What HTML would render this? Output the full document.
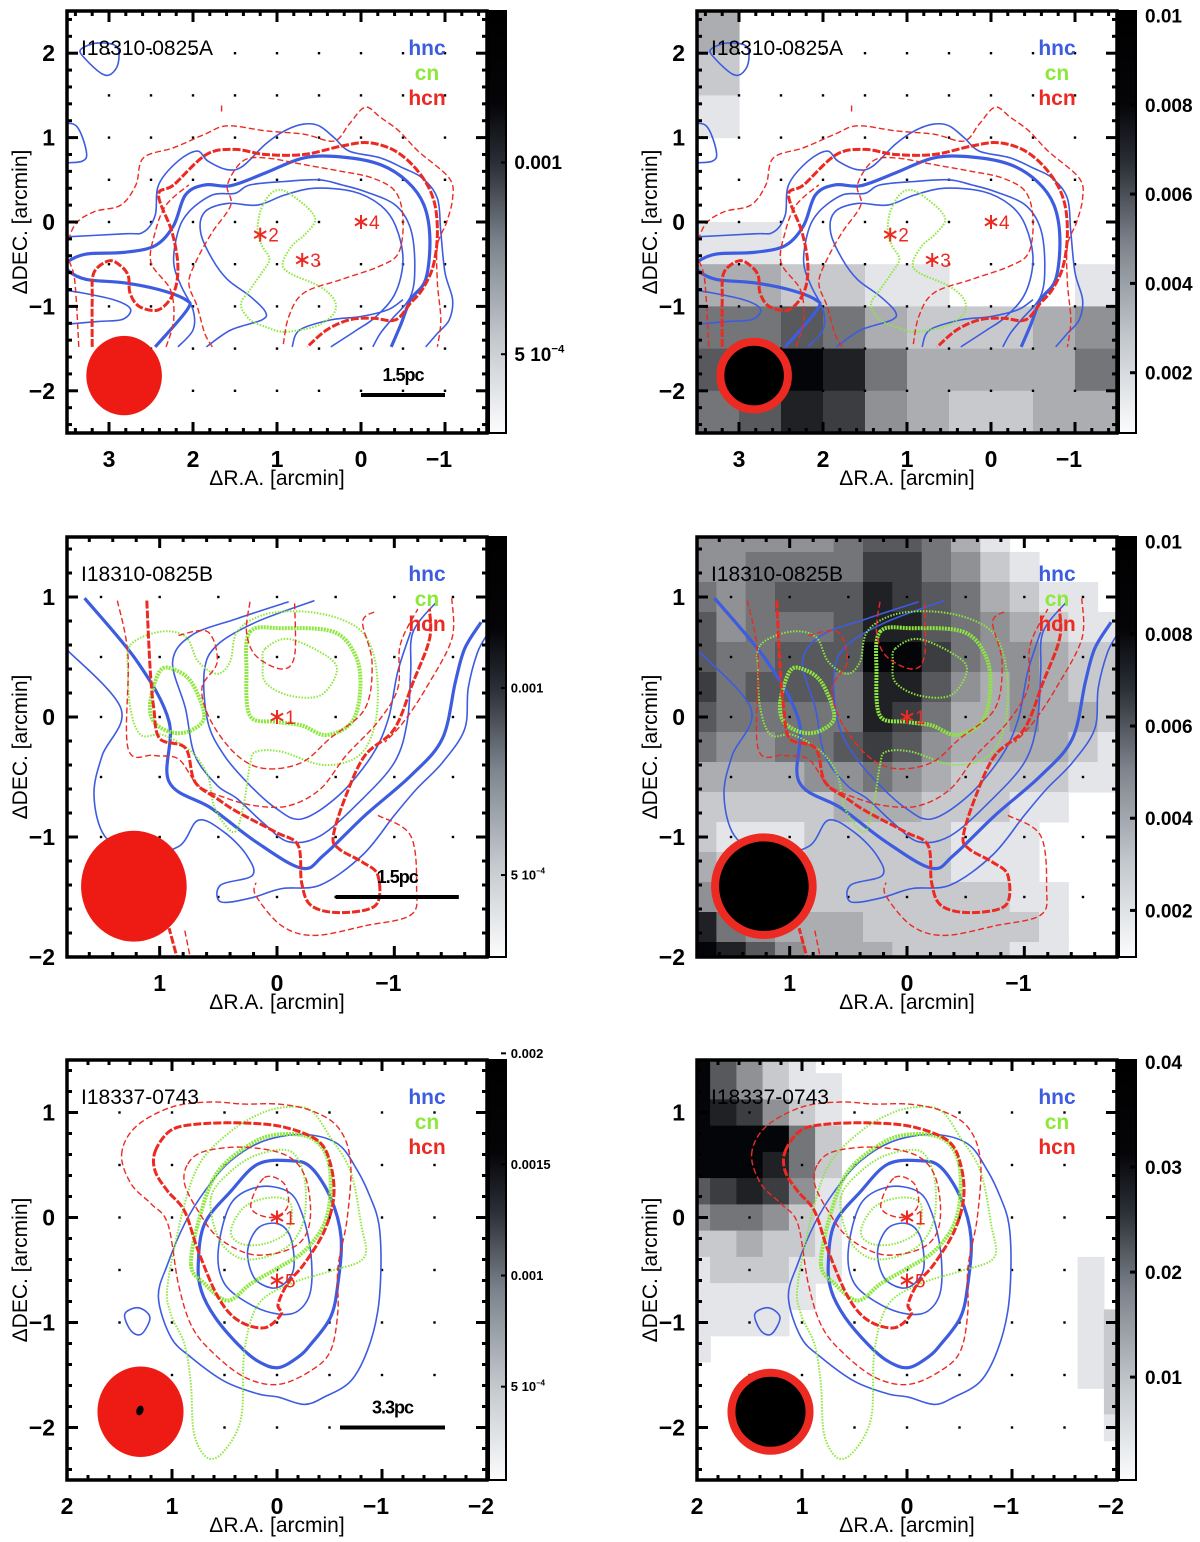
<!DOCTYPE html>
<html><head><meta charset="utf-8"><title>Contour maps</title>
<style>
html,body{margin:0;padding:0;background:#fff;}
svg{display:block;font-family:"Liberation Sans",Arial,sans-serif;}
</style></head>
<body>
<svg id="fig" width="1200" height="1542" viewBox="0 0 1200 1542" xmlns="http://www.w3.org/2000/svg">
<defs>
<linearGradient id="cbgrad" x1="0" y1="0" x2="0" y2="1">
<stop offset="0" stop-color="#000"/><stop offset="0.22" stop-color="#050508"/><stop offset="0.36" stop-color="#2a2e36"/><stop offset="0.55" stop-color="#7c838c"/><stop offset="0.78" stop-color="#c4c9ce"/><stop offset="1" stop-color="#fbfcfd"/>
</linearGradient>
</defs>
</svg>
<script>
// ---------------- DATA ----------------
const xTicksRow1 = [3, 2, 1, 0, -1];
const yTicksRow1 = [-2, -1, 0, 1, 2];
const xTicksRow2 = [1, 0, -1];
const yTicksRow2 = [-2, -1, 0, 1];
const xTicksRow3 = [2, 1, 0, -1, -2];
const yTicksRow3 = [-2, -1, 0, 1];
const panelTitles = ['I18310-0825A', 'I18310-0825B', 'I18337-0743'];
const legendNames = ['hnc', 'cn', 'hcn'];
const scaleBarLabels = ['1.5pc', '1.5pc', '3.3pc'];
const scaleBarRanges = [[0.0, -1.0], [-0.5, -1.55], [-0.6, -1.6]];
const scaleBarY = [-2.05, -1.5, -2.0];
const cbLeftLabels = [['0.001', '5 10'], ['0.001', '5 10'], ['0.002', '0.0015', '0.001', '5 10']];
const cbLeftValues = [[0.001, 0.0005], [0.001, 0.0005], [0.002, 0.0015, 0.001, 0.0005]];
const cbLeftRange = [[3.76e-4, 1.73e-3], [3.69e-4, 1.75e-3], [0.00008, 0.00197]];
const cbRightLabels = [['0.01', '0.008', '0.006', '0.004', '0.002'], ['0.01', '0.008', '0.006', '0.004', '0.002'], ['0.04', '0.03', '0.02', '0.01']];
const cbRightValues = [[0.01, 0.008, 0.006, 0.004, 0.002], [0.01, 0.008, 0.006, 0.004, 0.002], [0.04, 0.03, 0.02, 0.01]];
const cbRightRange = [[0.00065, 0.0101], [0.00099, 0.0101], [0.0002, 0.0402]];
const starsRow1 = [[1.2, -0.15, '2'], [0.7, -0.45, '3'], [0.0, 0.0, '4']];
const starsRow2 = [[0.0, 0.0, '1']];
const starsRow3 = [[0.0, 0.0, '1'], [0.0, -0.6, '5']];
const beams = [[2.82, -1.82, 0.45], [1.22, -1.41, 0.45], [1.3, -1.85, 0.41]];
const greyMap1 = [
[3,0,0,0,0,0,0,0,0,0],
[2,0,0,0,0,0,0,0,0,0],
[1,0,0,0,0,0,0,0,0,0],
[0,0,0,0,0,0,0,0,0,0],
[0,0,0,0,0,0,0,0,0,0],
[1,1,0,0,0,0,0,0,0,0],
[3,3,2,2,1,1,0,0,0,1],
[5,5,6,5,3,2,2,2,3,4],
[6,7,9,8,5,3,3,3,3,5],
[5,6,8,7,4,3,2,2,3,3]];
const greyMap2 = [
[4,4,4,4,4,5,6,6,5,3,1,0,0,0,0],
[4,4,5,5,5,5,7,7,5,4,2,1,0,0,0],
[5,4,5,6,6,6,8,7,6,5,3,2,1,1,0],
[6,4,5,5,5,6,8,8,6,5,4,3,2,1,1],
[6,5,5,6,6,6,9,9,7,5,4,4,3,2,2],
[7,5,6,6,6,5,8,8,6,4,3,4,3,2,2],
[6,5,5,5,5,5,8,7,5,3,3,4,3,3,2],
[5,4,4,5,5,6,7,6,4,3,3,3,3,2,1],
[3,3,3,3,4,4,5,4,3,2,2,2,2,1,1],
[2,2,2,2,2,3,3,3,2,2,2,1,1,0,0],
[2,1,1,1,2,2,2,2,2,1,1,1,0,0,0],
[3,2,2,2,2,2,2,2,2,1,1,1,0,0,0],
[4,3,3,2,2,2,2,2,2,2,2,1,1,0,0],
[8,5,4,3,3,3,2,2,2,2,2,2,1,0,0],
[9,8,6,4,3,3,3,2,2,2,2,1,1,0,0]];
const greyMap3 = [
[9,6,4,2,1,0,0,0,0,0,0,0,0,0,0,0,0],
[9,6,4,2,1,1,0,0,0,0,0,0,0,0,0,0,0],
[9,8,7,4,2,1,0,0,0,0,0,0,0,0,0,0,0],
[9,9,9,9,5,2,0,0,0,0,0,0,0,0,0,0,0],
[9,9,9,8,5,2,0,0,0,0,0,0,0,0,0,0,0],
[6,7,8,7,4,1,0,0,0,0,0,0,0,0,0,0,0],
[4,5,5,4,2,1,0,0,0,0,0,0,0,0,0,0,0],
[2,2,3,2,2,1,0,0,0,0,0,0,0,0,0,0,0],
[1,2,2,2,1,1,0,0,0,0,0,0,0,0,0,1,0],
[1,1,1,1,1,0,0,0,0,0,0,0,0,0,0,1,0],
[1,1,1,1,0,0,0,0,0,0,0,0,0,0,0,1,2],
[1,0,0,0,0,0,0,0,0,0,0,0,0,0,0,1,2],
[0,0,0,0,0,0,0,0,0,0,0,0,0,0,0,1,2],
[0,0,0,0,0,0,0,0,0,0,0,0,0,0,0,0,2],
[0,0,0,0,0,0,0,0,0,0,0,0,0,0,0,0,1],
[0,0,0,0,0,0,0,0,0,0,0,0,0,0,0,0,0],
[0,0,0,0,0,0,0,0,0,0,0,0,0,0,0,0,0]];
const contoursRow1 = [
['hnc',0,1,[[3.34,2.04],[3.14,2.12],[2.91,2.08],[2.89,1.88],[2.98,1.75],[3.09,1.76],[3.27,1.92]]],
['hnc',0,0,[[3.6,1.16],[3.39,1.14],[3.27,0.84],[3.32,0.72],[3.6,0.70]]],
['hnc',0,0,[[3.6,-0.18],[2.82,-0.14],[2.59,-0.12],[2.45,0.08],[2.41,0.44],[2.18,0.72],[1.95,0.84],[1.82,0.72],[1.59,0.62],[1.41,0.66],[1.14,0.92],[0.91,1.08],[0.68,1.16],[0.5,1.14],[0.32,1.0],[0.14,0.84],[-0.23,0.76],[-0.5,0.64],[-0.73,0.52],[-0.91,0.28],[-0.95,-0.12],[-1.0,-0.6],[-1.09,-0.92],[-1.05,-1.16],[-0.91,-1.32],[-0.77,-1.48]]],
['hnc',1,0,[[2.45,-1.48],[2.07,-1.04],[2.09,-0.92],[2.41,-0.8],[2.82,-0.72],[3.27,-0.68],[3.48,-0.58],[3.5,-0.48],[3.27,-0.38],[2.82,-0.36],[2.45,-0.28],[2.23,-0.04],[2.09,0.32],[1.86,0.44],[1.55,0.43],[1.14,0.58],[0.68,0.76],[0.23,0.77],[-0.23,0.68],[-0.55,0.48],[-0.75,0.2],[-0.82,-0.2],[-0.77,-0.68],[-0.59,-0.92],[-0.48,-1.2],[-0.36,-1.48]]],
['hnc',0,0,[[3.6,-0.8],[3.32,-0.84],[2.95,-0.92],[2.77,-1.0],[2.75,-1.08],[2.86,-1.16],[3.14,-1.18],[3.6,-1.22]]],
['hnc',0,0,[[2.18,-1.48],[2.0,-1.28],[2.0,-1.04],[2.14,-0.76],[2.23,-0.48],[2.18,-0.12],[2.05,0.12],[1.77,0.32],[1.5,0.34],[1.32,0.44],[0.91,0.48],[0.5,0.5],[0.23,0.44],[-0.05,0.36],[-0.41,0.2],[-0.59,-0.08],[-0.64,-0.52],[-0.59,-0.88],[-0.36,-1.16],[-0.23,-1.32],[-0.14,-1.48]]],
['hnc',0,0,[[1.84,-1.48],[1.55,-1.28],[1.18,-1.16],[1.14,-1.06],[1.32,-0.88],[1.59,-0.68],[1.77,-0.44],[1.91,-0.12],[1.86,0.12],[1.59,0.22],[1.23,0.2],[0.91,0.32],[0.55,0.4],[0.09,0.36],[-0.23,0.2],[-0.41,-0.04],[-0.5,-0.44],[-0.41,-0.84],[-0.18,-1.12],[0.05,-1.28],[0.36,-1.48]]],
['hnc',0,0,[[0.82,-1.48],[0.73,-1.28],[0.36,-1.16],[0.0,-1.12],[-0.32,-1.04],[-0.5,-0.92]]],
['cn',0,1,[[0.95,0.38],[0.77,0.28],[0.59,0.12],[0.55,0],[0.68,-0.16],[0.82,-0.28],[0.93,-0.48],[0.86,-0.6],[0.5,-0.76],[0.32,-0.92],[0.32,-1.08],[0.5,-1.22],[0.73,-1.28],[0.95,-1.3],[1.14,-1.24],[1.32,-1.16],[1.43,-0.98],[1.32,-0.8],[1.18,-0.6],[1.09,-0.44],[1.18,-0.28],[1.23,-0.12],[1.2,0.12],[1.09,0.32]]],
['hcn',1,0,[[3.2,-1.48],[3.2,-0.92],[3.18,-0.6],[3.0,-0.46],[2.86,-0.52],[2.77,-0.64],[2.75,-0.84],[2.64,-1.0],[2.41,-1.04],[2.23,-0.84],[2.18,-0.52],[2.25,-0.12],[2.41,0.32],[2.23,0.44],[1.84,0.8],[1.5,0.86],[1.14,0.8],[0.68,0.8],[0.23,0.9],[-0.09,0.94],[-0.41,0.84],[-0.68,0.6],[-0.86,0.28],[-0.91,-0.12],[-0.86,-0.52],[-0.73,-0.8],[-0.59,-0.96],[-0.41,-1.16],[-0.14,-1.14],[0.14,-1.16],[0.41,-1.28],[0.64,-1.48]]],
['hcn',0,0,[[3.36,-1.48],[3.41,-0.68],[3.5,-0.36],[3.41,-0.04],[3.18,0.12],[2.86,0.2],[2.68,0.44],[2.59,0.76],[2.23,0.88],[1.86,1.04],[1.59,1.14],[1.14,1.08],[0.68,1.04],[0.32,0.96],[0.14,1.16],[-0.05,1.36],[-0.23,1.24],[-0.45,1.08],[-0.68,0.84],[-1.05,0.52],[-1.09,0.28],[-1.02,0],[-0.91,-0.28],[-0.91,-0.72],[-0.95,-1.16],[-0.91,-1.48]]],
['hcn',0,0,[[1.77,-1.48],[1.86,-1.32],[1.95,-1.0],[2.05,-0.72],[1.95,-0.44],[1.77,-0.12],[1.55,0.2],[1.59,0.44],[1.41,0.72],[1.14,0.76],[0.68,0.68],[0.23,0.6],[-0.14,0.52],[-0.41,0.36],[-0.5,0.04],[-0.45,-0.36],[-0.23,-0.52],[0.23,-0.68],[0.68,-0.84],[0.86,-1.12],[0.93,-1.48]]],
['hcn',0,0,[[2.32,-1.48],[2.23,-1.16],[2.27,-0.8],[2.5,-0.48],[2.45,-0.12],[2.32,0.2],[2.05,0.44]]],
['hcn',0,0,[[1.66,1.38],[1.66,1.28]]]
];
const contoursRow2 = [
['hnc',1,0,[[1.64,0.99],[1.19,0.46],[0.92,-0.04],[0.92,-0.54],[0.56,-0.76],[0.18,-1.04],[-0.21,-1.26],[-0.4,-1.15],[-0.75,-0.82],[-1.14,-0.49],[-1.41,-0.18],[-1.52,0.29],[-1.6,0.57],[-1.74,0.79]]],
['hnc',0,0,[[1.8,0.57],[1.33,0.07],[1.49,-0.32],[1.56,-0.65],[1.47,-0.99],[1.2,-1.15],[0.84,-1.08],[0.67,-0.86],[0.45,-0.96],[0.26,-1.15],[0.21,-1.32],[0.48,-1.4],[0.48,-1.54],[0.23,-1.51],[-0.04,-1.43],[-0.37,-1.4],[-0.73,-1.15],[-1.0,-0.82],[-1.19,-0.6],[-1.41,-0.38],[-1.6,-0.1],[-1.63,0.24],[-1.71,0.54],[-1.8,0.7]]],
['hnc',0,0,[[-0.1,0.96],[0.34,0.82],[0.73,0.68],[0.89,0.46],[0.78,0.07],[0.7,-0.32],[0.51,-0.57],[0.34,-0.68],[0.12,-0.88],[-0.1,-1.04],[-0.37,-0.99],[-0.7,-0.71],[-1.0,-0.38],[-1.11,-0.04],[-1.14,0.38],[-1.16,0.71],[-1.37,0.97]]],
['hnc',0,0,[[-0.32,0.97],[0.18,0.79],[0.51,0.6],[0.62,0.38],[0.59,-0.04],[0.45,-0.32],[0.23,-0.57],[0.01,-0.76],[-0.21,-0.85],[-0.53,-0.65],[-0.81,-0.32],[-0.95,-0.01],[-1.03,0.38],[-1.14,0.71]]],
['cn',1,1,[[1.08,0.13],[1.0,0.38],[0.89,0.4],[0.73,0.29],[0.62,0.01],[0.73,-0.11],[0.89,-0.13],[1.05,-0.04]]],
['cn',1,1,[[0.23,0.71],[-0.04,0.74],[-0.48,0.71],[-0.67,0.51],[-0.71,0.24],[-0.64,-0.04],[-0.42,-0.15],[-0.21,-0.07],[0.01,-0.04],[0.23,0.01],[0.26,0.38]]],
['cn',0,1,[[0.1,0.57],[-0.1,0.65],[-0.42,0.51],[-0.51,0.38],[-0.37,0.18],[-0.1,0.18],[0.1,0.29],[0.12,0.46]]],
['cn',0,1,[[1.25,0.6],[1.0,0.71],[0.78,0.67],[0.67,0.46],[0.51,0.36],[0.4,0.46],[0.34,0.71],[0.12,0.85],[-0.21,0.88],[-0.53,0.82],[-0.75,0.68],[-0.85,0.38],[-0.84,-0.04],[-0.7,-0.32],[-0.4,-0.4],[-0.04,-0.29],[0.18,-0.29],[0.23,-0.4],[0.29,-0.76],[0.37,-0.96],[0.53,-0.76],[0.59,-0.49],[0.73,-0.29],[0.97,-0.15],[1.16,-0.15],[1.25,0.07],[1.27,0.38]]],
['hcn',1,0,[[1.11,0.97],[1.08,0.38],[1.05,0.07],[1.0,-0.18],[0.78,-0.26],[0.7,-0.54],[0.51,-0.68],[0.34,-0.79],[0.01,-0.96],[-0.18,-1.07],[-0.21,-1.38],[-0.29,-1.57],[-0.53,-1.63],[-0.84,-1.57],[-0.86,-1.32],[-0.73,-1.21],[-0.53,-1.1],[-0.48,-0.99],[-0.59,-0.65],[-0.75,-0.32],[-1.0,-0.1],[-1.16,0.29],[-1.3,0.65],[-1.3,0.9]]],
['hcn',0,0,[[1.36,0.97],[1.27,0.51],[1.27,-0.26],[1.05,-0.32],[0.84,-0.35],[0.67,-0.57],[0.42,-0.68],[0.18,-0.74],[-0.1,-0.74],[-0.37,-0.6],[-0.59,-0.32],[-0.86,-0.04],[-1.03,0.24],[-1.05,0.6],[-1.2,0.9]]],
['hcn',0,0,[[0.84,0.68],[0.59,0.71],[0.51,0.46],[0.64,0.24],[0.56,-0.04],[0.34,-0.32],[0.1,-0.43],[-0.21,-0.38],[-0.45,-0.18],[-0.75,0.07],[-0.81,0.46],[-0.73,0.79],[-0.84,0.88]]],
['hcn',0,0,[[0.23,0.96],[0.26,0.71],[0.18,0.51],[-0.04,0.4],[-0.15,0.51],[-0.15,0.96]]],
['hcn',0,0,[[-0.86,-0.82],[-1.14,-0.99],[-1.19,-1.43],[-1.14,-1.65],[-0.75,-1.74],[-0.32,-1.82],[-0.04,-1.74],[0.18,-1.49],[0.18,-1.38]]],
['hcn',0,0,[[-1.49,0.99],[-1.49,0.65],[-1.27,0.24],[-1.08,-0.04],[-0.92,-0.21]]],
['hcn',1,0,[[0.84,-2.05],[0.92,-1.76]]],
['hcn',0,0,[[0.73,-2.05],[0.79,-1.76]]]
];
const contoursRow3 = [
['hnc',0,1,[[1.13,-0.76],[1.04,-0.44],[0.88,-0.06],[0.69,0.25],[0.44,0.54],[0.12,0.73],[-0.26,0.79],[-0.58,0.7],[-0.77,0.44],[-0.89,0.19],[-0.97,-0.06],[-0.99,-0.44],[-0.96,-0.89],[-0.86,-1.27],[-0.7,-1.56],[-0.45,-1.71],[-0.26,-1.78],[-0.01,-1.71],[0.18,-1.68],[0.5,-1.56],[0.82,-1.33],[1.01,-1.14]]],
['hnc',1,1,[[0.75,-0.44],[0.69,-0.06],[0.44,0.25],[0.18,0.51],[-0.13,0.54],[-0.32,0.48],[-0.51,0.19],[-0.61,-0.19],[-0.58,-0.63],[-0.51,-0.95],[-0.32,-1.21],[-0.2,-1.33],[-0.01,-1.43],[0.18,-1.37],[0.37,-1.21],[0.59,-0.95],[0.72,-0.7]]],
['hnc',0,1,[[0.56,-0.32],[0.44,0.13],[0.18,0.29],[-0.1,0.25],[-0.23,0.06],[-0.32,-0.32],[-0.32,-0.7],[-0.2,-0.89],[-0.01,-0.92],[0.25,-0.83],[0.5,-0.63]]],
['hnc',0,1,[[0.28,-0.32],[0.18,-0.1],[-0.01,-0.06],[-0.13,-0.19],[-0.16,-0.48],[-0.07,-0.63],[0.06,-0.67],[0.22,-0.57]]],
['hnc',0,1,[[1.45,-0.92],[1.32,-0.86],[1.21,-0.95],[1.29,-1.11],[1.39,-1.08]]],
['cn',1,1,[[0.82,-0.44],[0.72,0.06],[0.56,0.44],[0.25,0.70],[-0.01,0.79],[-0.32,0.76],[-0.48,0.57],[-0.51,0.25],[-0.45,-0.06],[-0.26,-0.32],[-0.01,-0.48],[0.25,-0.63],[0.47,-0.79],[0.69,-0.63]]],
['cn',0,1,[[1.04,-0.63],[0.88,0.13],[0.72,0.54],[0.44,0.82],[0.18,0.98],[-0.07,1.05],[-0.32,1.02],[-0.51,0.76],[-0.7,0.44],[-0.8,-0.06],[-0.83,-0.38],[-0.51,-0.51],[-0.13,-0.63],[0.18,-0.83],[0.31,-1.27],[0.34,-1.9],[0.5,-2.22],[0.66,-2.29],[0.79,-2.06],[0.82,-1.59],[0.88,-1.21],[1.01,-0.92]]],
['cn',0,1,[[0.63,0.19],[0.44,0.44],[0.18,0.6],[-0.13,0.63],[-0.26,0.38],[-0.26,0],[-0.13,-0.25],[0.12,-0.38],[0.37,-0.38],[0.56,-0.19]]],
['cn',0,1,[[0.44,-0.13],[0.31,0.1],[0.06,0.19],[-0.13,0.13],[-0.1,-0.13],[0.12,-0.25],[0.34,-0.25]]],
['hcn',1,1,[[1.16,0.63],[1.01,0.83],[0.75,0.89],[0.31,0.9],[-0.07,0.86],[-0.39,0.73],[-0.51,0.51],[-0.54,0.19],[-0.45,-0.13],[-0.26,-0.44],[-0.1,-0.63],[-0.01,-0.83],[-0.04,-0.92],[0.12,-1.05],[0.37,-0.98],[0.56,-0.76],[0.75,-0.32],[0.88,0.06],[1.04,0.25],[1.16,0.44]]],
['hcn',0,1,[[1.48,0.6],[1.35,0.86],[1.01,1.05],[0.63,1.1],[0.31,1.08],[-0.01,1.08],[-0.32,1.02],[-0.58,0.86],[-0.7,0.54],[-0.67,0],[-0.58,-0.48],[-0.58,-0.89],[-0.51,-1.27],[-0.32,-1.46],[-0.01,-1.59],[0.31,-1.52],[0.63,-1.27],[0.82,-1.02],[0.94,-0.63],[1.04,-0.06],[1.2,0.13],[1.39,0.32]]],
['hcn',0,1,[[0.85,0.51],[0.69,0.63],[0.31,0.67],[-0.07,0.6],[-0.26,0.41],[-0.32,0.06],[-0.26,-0.19],[-0.07,-0.32],[0.25,-0.35],[0.56,-0.19],[0.75,0.06],[0.88,0.32]]],
['hcn',0,1,[[0.12,0.38],[-0.07,0.32],[-0.1,0.1],[0.06,0],[0.25,0.1]]]
];

// ---------------- DRAWING ----------------
const NS = 'http://www.w3.org/2000/svg';
const svg = document.getElementById('fig');
function mk(tag, attrs, parent) {
  const e = document.createElementNS(NS, tag);
  for (const k in attrs) e.setAttribute(k, attrs[k]);
  (parent || svg).appendChild(e);
  return e;
}
const COLORS = { hnc: '#3d5ce0', cn: '#8de83c', hcn: '#ec2a22' };
const rows = [
  { top: 11, bottom: 433, xr: [3.5, -1.5], yr: [2.5, -2.5], xt: xTicksRow1, yt: yTicksRow1, cont: contoursRow1, stars: starsRow1, grey: greyMap1, gStep: 0.5, gx0: 3.25, gy0: 2.25, cbLfs: 19 },
  { top: 537, bottom: 957, xr: [1.79, -1.79], yr: [1.5, -2.0], xt: xTicksRow2, yt: yTicksRow2, cont: contoursRow2, stars: starsRow2, grey: greyMap2, gStep: 0.25, gx0: 1.75, gy0: 1.5, cbLfs: 13 },
  { top: 1060, bottom: 1480, xr: [2.0, -2.0], yr: [1.5, -2.5], xt: xTicksRow3, yt: yTicksRow3, cont: contoursRow3, stars: starsRow3, grey: greyMap3, gStep: 0.25, gx0: 2.0, gy0: 1.5, cbLfs: 13 }
];
const sides = [{ left: 67, right: false }, { left: 697, right: true }];

function smooth(pts, closed) {
  const n = pts.length;
  if (n < 3) return 'M' + pts.map(p => p[0].toFixed(1) + ',' + p[1].toFixed(1)).join('L');
  let d = 'M' + pts[0][0].toFixed(1) + ',' + pts[0][1].toFixed(1);
  const segs = closed ? n : n - 1;
  const g = i => closed ? pts[(i + n) % n] : pts[Math.max(0, Math.min(n - 1, i))];
  for (let i = 0; i < segs; i++) {
    const p0 = g(i - 1), p1 = g(i), p2 = g(i + 1), p3 = g(i + 2);
    const c1 = [p1[0] + (p2[0] - p0[0]) / 6, p1[1] + (p2[1] - p0[1]) / 6];
    const c2 = [p2[0] - (p3[0] - p1[0]) / 6, p2[1] - (p3[1] - p1[1]) / 6];
    d += 'C' + c1[0].toFixed(1) + ',' + c1[1].toFixed(1) + ' ' + c2[0].toFixed(1) + ',' + c2[1].toFixed(1) + ' ' + p2[0].toFixed(1) + ',' + p2[1].toFixed(1);
  }
  return d + (closed ? 'Z' : '');
}

rows.forEach((R, ri) => {
  sides.forEach((S, si) => {
    const L = S.left, W = 420, T = R.top, B = R.bottom, H = B - T;
    const sx = v => L + (R.xr[0] - v) / (R.xr[0] - R.xr[1]) * W;
    const sy = v => T + (R.yr[0] - v) / (R.yr[0] - R.yr[1]) * H;
    const g = mk('g', {});
    
    
    const cid = 'clip' + ri + si;
    const cp = mk('clipPath', { id: cid }, g);
    mk('rect', { x: L, y: T, width: W, height: H }, cp);
    if (S.right) {
      const gi = mk('g', { 'clip-path': 'url(#' + cid + ')' }, g);
      
      
      const st = R.gStep;
      R.grey.forEach((row, j) => row.forEach((v, i) => {
        if (!v) return;
        const cx = R.gx0 - i * st, cy = R.gy0 - j * st;
        const x1 = sx(cx + st / 2), x2 = sx(cx - st / 2), y1 = sy(cy + st / 2), y2 = sy(cy - st / 2);
        const l = Math.round(255 - v * 28);
        const r = mk('rect', { x: x1.toFixed(1), y: y1.toFixed(1), width: (x2 - x1 + 0.6).toFixed(1), height: (y2 - y1 + 0.6).toFixed(1), fill: 'rgb(' + l + ',' + Math.min(255, l + 2) + ',' + Math.min(255, l + 6) + ')' }, gi);
        
        
      }));
    }
    for (let x = Math.ceil(R.xr[1] * 2) / 2; x <= R.xr[0] - 0.01; x += 0.5) {
      for (let y = Math.ceil(R.yr[1] * 2) / 2; y <= R.yr[0] - 0.01; y += 0.5) {
        if (Math.abs(x - R.xr[1]) < 0.1 || Math.abs(y - R.yr[1]) < 0.1) continue;
        const dt = mk('rect', { x: sx(x) - 1.2, y: sy(y) - 1.2, width: 2.4, height: 2.4, fill: '#000' }, g);
        
        
      }
    }
    const cg = mk('g', { 'clip-path': 'url(#' + cid + ')', fill: 'none' }, g);
    
    
    R.cont.forEach(c => {
      const [sp, thick, closed, pts] = c;
      const px = pts.map(p => [sx(p[0]), sy(p[1])]);
      const a = { d: smooth(px, closed), stroke: COLORS[sp], fill: 'none', 'stroke-linejoin': 'round' };
      if (sp === 'hnc') { a['stroke-width'] = thick ? 3.2 : 1.6; }
      if (sp === 'cn') { a['stroke-width'] = thick ? 4 : 2; a['stroke-dasharray'] = thick ? '2 1' : '1.5 1.5'; }
      if (sp === 'hcn') { a['stroke-width'] = thick ? 3 : 1.4; a['stroke-dasharray'] = thick ? '8 2' : '6 3'; }
      const p = mk('path', a, cg);
      
      
    });
    R.stars.forEach(s => {
      const cx = sx(s[0]), cy = sy(s[1]);
      const st = mk('g', { stroke: '#ec2a22', 'stroke-width': 2 }, g);
      
      
      [90, 30, 150].forEach(ang => {
        const dx = 7 * Math.cos(ang * Math.PI / 180), dy = 7 * Math.sin(ang * Math.PI / 180);
        mk('line', { x1: cx - dx, y1: cy - dy, x2: cx + dx, y2: cy + dy }, st);
      });
      const t = mk('text', { x: cx + 8, y: cy + 7, fill: '#ec2a22', 'font-size': 19 }, g);
      t.textContent = s[2];
      
      
    });
    const bm = beams[ri];
    const bx = sx(bm[0]), by = sy(bm[1]), br = bm[2] * W / (R.xr[0] - R.xr[1]);
    if (S.right) {
      const c1 = mk('circle', { cx: bx, cy: by, r: br - 4, fill: '#000', stroke: '#ec2a22', 'stroke-width': 8 }, g);
      
      
    } else {
      const c1 = mk('ellipse', { cx: bx, cy: by, rx: br, ry: br * 1.05, fill: '#ee1b14' }, g);
      
      
      if (ri === 2) {
        const c2 = mk('ellipse', { cx: bx - 1, cy: by - 1, rx: 3.5, ry: 5, fill: '#000', transform: 'rotate(20 ' + bx + ' ' + by + ')' }, g);
        
        
      }
      const sb = scaleBarRanges[ri];
      const ln = mk('line', { x1: sx(sb[0]), x2: sx(sb[1]), y1: sy(scaleBarY[ri]), y2: sy(scaleBarY[ri]), stroke: '#000', 'stroke-width': 4 }, g);
      
      
      const sl = mk('text', { x: (sx(sb[0]) + sx(sb[1])) / 2, y: sy(scaleBarY[ri]) - 14, 'text-anchor': 'middle', 'font-size': 18, 'font-weight': 'bold', fill: '#000', 'letter-spacing': '-1' }, g);
      sl.textContent = scaleBarLabels[ri];
      
      
    }
    const tt = mk('text', { x: L + 14, y: T + 44, 'font-size': 21, fill: '#000' }, g);
    tt.textContent = panelTitles[ri];
    
    
    legendNames.forEach((nm, k) => {
      const lt = mk('text', { x: L + 360, y: T + 44 + k * 25, 'text-anchor': 'middle', 'font-size': 21, 'font-weight': 'bold', fill: COLORS[nm] }, g);
      lt.textContent = nm;
      
      
    });
    const fr = mk('rect', { x: L, y: T, width: W, height: H, fill: 'none', stroke: '#000', 'stroke-width': 3.5 }, g);
    
    
    const tk = mk('g', { stroke: '#000', 'stroke-width': 3 }, g);
    
    
    const xmin = Math.min(R.xr[0], R.xr[1]), xmax = Math.max(R.xr[0], R.xr[1]);
    for (let v = Math.ceil(xmin * 5) / 5; v <= xmax + 1e-6; v += 0.2) {
      const major = Math.abs(v - Math.round(v)) < 1e-6, len = major ? 11 : 5, x = sx(v);
      mk('line', { x1: x, x2: x, y1: B, y2: B - len }, tk);
      mk('line', { x1: x, x2: x, y1: T, y2: T + len }, tk);
    }
    for (let v = Math.ceil(R.yr[1] * 5) / 5; v <= R.yr[0] + 1e-6; v += 0.2) {
      const major = Math.abs(v - Math.round(v)) < 1e-6, len = major ? 11 : 5, y = sy(v);
      mk('line', { x1: L, x2: L + len, y1: y, y2: y }, tk);
      mk('line', { x1: L + W, x2: L + W - len, y1: y, y2: y }, tk);
    }
    R.xt.forEach(v => {
      const t = mk('text', { x: sx(v) - (v < 0 ? 6 : 0), y: B + 34, 'text-anchor': 'middle', 'font-size': 23, 'font-weight': 'bold', fill: '#000' }, g);
      t.textContent = v < 0 ? '\u2212' + Math.abs(v) : String(v);
      
      
    });
    R.yt.forEach(v => {
      const t = mk('text', { x: L - 12, y: sy(v) + 8, 'text-anchor': 'end', 'font-size': 23, 'font-weight': 'bold', fill: '#000' }, g);
      t.textContent = v < 0 ? '\u2212' + Math.abs(v) : String(v);
      
      
    });
    const xl = mk('text', { x: L + W / 2, y: B + 52, 'text-anchor': 'middle', 'font-size': 21, fill: '#000' }, g);
    xl.textContent = '\u0394R.A. [arcmin]';
    
    
    const yl = mk('text', { x: 0, y: 0, 'text-anchor': 'middle', 'font-size': 21, fill: '#000', transform: 'translate(' + (L - 40) + ',' + (T + H / 2) + ') rotate(-90)' }, g);
    yl.textContent = '\u0394DEC. [arcmin]';
    
    
    const cbx = L + W + 2, cbw = 17;
    const cb = mk('rect', { x: cbx, y: T, width: cbw, height: H, fill: 'url(#cbgrad)', stroke: '#000', 'stroke-width': 2 }, g);
    
    
    if (S.right) {
      const rg = cbRightRange[ri];
      const cy = v => B - (v - rg[0]) / (rg[1] - rg[0]) * H;
      cbRightValues[ri].forEach((v, k) => {
        mk('line', { x1: cbx + cbw, x2: cbx + cbw - 6, y1: cy(v), y2: cy(v), stroke: '#000', 'stroke-width': 3 }, g);
        const t = mk('text', { x: cbx + 26, y: cy(v) + 7, 'font-size': 19, 'font-weight': 'bold', fill: '#000' }, g);
        t.textContent = cbRightLabels[ri][k];
        
        
      });
    } else {
      const rg = cbLeftRange[ri];
      const cy = ri === 2 ? (v => B - (v - rg[0]) / (rg[1] - rg[0]) * H)
                          : (v => B - (Math.log10(v) - Math.log10(rg[0])) / (Math.log10(rg[1]) - Math.log10(rg[0])) * H);
      const fs = R.cbLfs;
      cbLeftValues[ri].forEach((v, k) => {
        mk('line', { x1: cbx + cbw, x2: cbx + cbw - 5, y1: cy(v), y2: cy(v), stroke: '#000', 'stroke-width': 2 }, g);
        const t = mk('text', { x: cbx + 14 + fs * 0.6, y: cy(v) + fs * 0.35, 'font-size': fs, 'font-weight': 'bold', fill: '#000' }, g);
        t.textContent = cbLeftLabels[ri][k];
        if (cbLeftLabels[ri][k] === '5 10') {
          const sup = mk('tspan', { dy: -fs * 0.45, 'font-size': fs * 0.6 }, t);
          sup.textContent = '\u22124';
        }
        
        
      });
    }
  });
});
</script>
</body></html>
